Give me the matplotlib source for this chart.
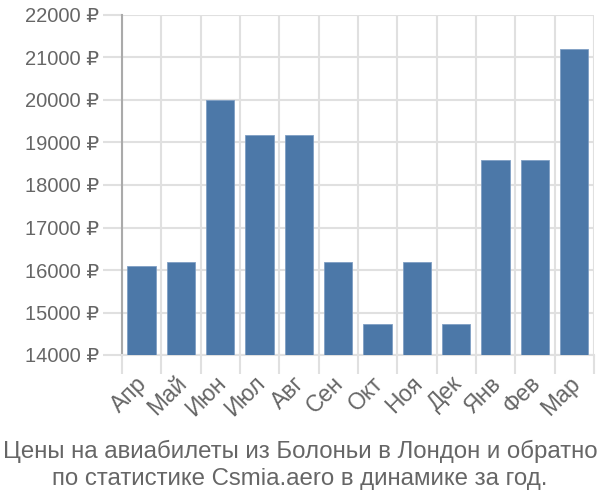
import matplotlib.pyplot as plt
import matplotlib.transforms as mtransforms
import numpy as np

plt.rcParams["font.family"] = ["Liberation Sans", "DejaVu Sans"]

months = ["Апр", "Май", "Июн", "Июл", "Авг", "Сен", "Окт", "Ноя", "Дек", "Янв", "Фев", "Мар"]
prices = [16100, 16200, 20000, 19170, 19170, 16200, 14730, 16200, 14730, 18600, 18600, 21200]
y_ticks = [14000, 15000, 16000, 17000, 18000, 19000, 20000, 21000, 22000]
title = "Цены на авиабилеты из Болоньи в Лондон и обратно\nпо статистике Csmia.aero в динамике за год."

text_color = "#666666"
grid_color = "#e0e0e0"

fig = plt.figure(figsize=(6, 5), dpi=100)
ax = fig.add_axes([0.203, 0.29, 0.787, 0.68])

x = np.arange(len(months))
ax.bar(x, np.array(prices) - 14000, bottom=14000, width=0.72,
       color="#4c78a8", edgecolor="#7f9fc4", linewidth=0.6, zorder=3)

ax.set_xlim(-0.5, len(months) - 0.5)
ax.set_ylim(14000, 22000)

ax.set_yticks(y_ticks)
ax.set_yticklabels([f"{v} ₽" for v in y_ticks], fontsize=14.5, color=text_color)
ax.tick_params(axis="y", length=14, color=grid_color, width=1.5, pad=2)

ax.set_xticks(x)
ax.set_xticklabels(months, fontsize=16.5, color=text_color, rotation=45,
                   ha="right", rotation_mode="anchor")
ax.tick_params(axis="x", which="major", length=0, pad=12)
shift = mtransforms.ScaledTranslation(-6 / 100, 0, fig.dpi_scale_trans)
for lbl in ax.get_xticklabels():
    lbl.set_transform(lbl.get_transform() + shift)
ax.set_xticks(np.arange(-0.5, len(months), 1.0), minor=True)
ax.tick_params(axis="x", which="minor", length=14, color=grid_color, width=1.5)

ax.grid(axis="y", which="major", color=grid_color, linewidth=1.5, zorder=0)
ax.grid(axis="x", which="minor", color=grid_color, linewidth=1.5, zorder=0)

for s in ["top", "right"]:
    ax.spines[s].set_visible(False)
ax.spines["left"].set_color("#aaaaaa")
ax.spines["left"].set_linewidth(1.5)
ax.spines["bottom"].set_color(grid_color)
ax.spines["bottom"].set_linewidth(1.5)

fig.text(0.5, 0.02, title, ha="center", va="bottom", fontsize=17.3,
         color=text_color, linespacing=1.3)

fig.savefig("out.png", dpi=100)
